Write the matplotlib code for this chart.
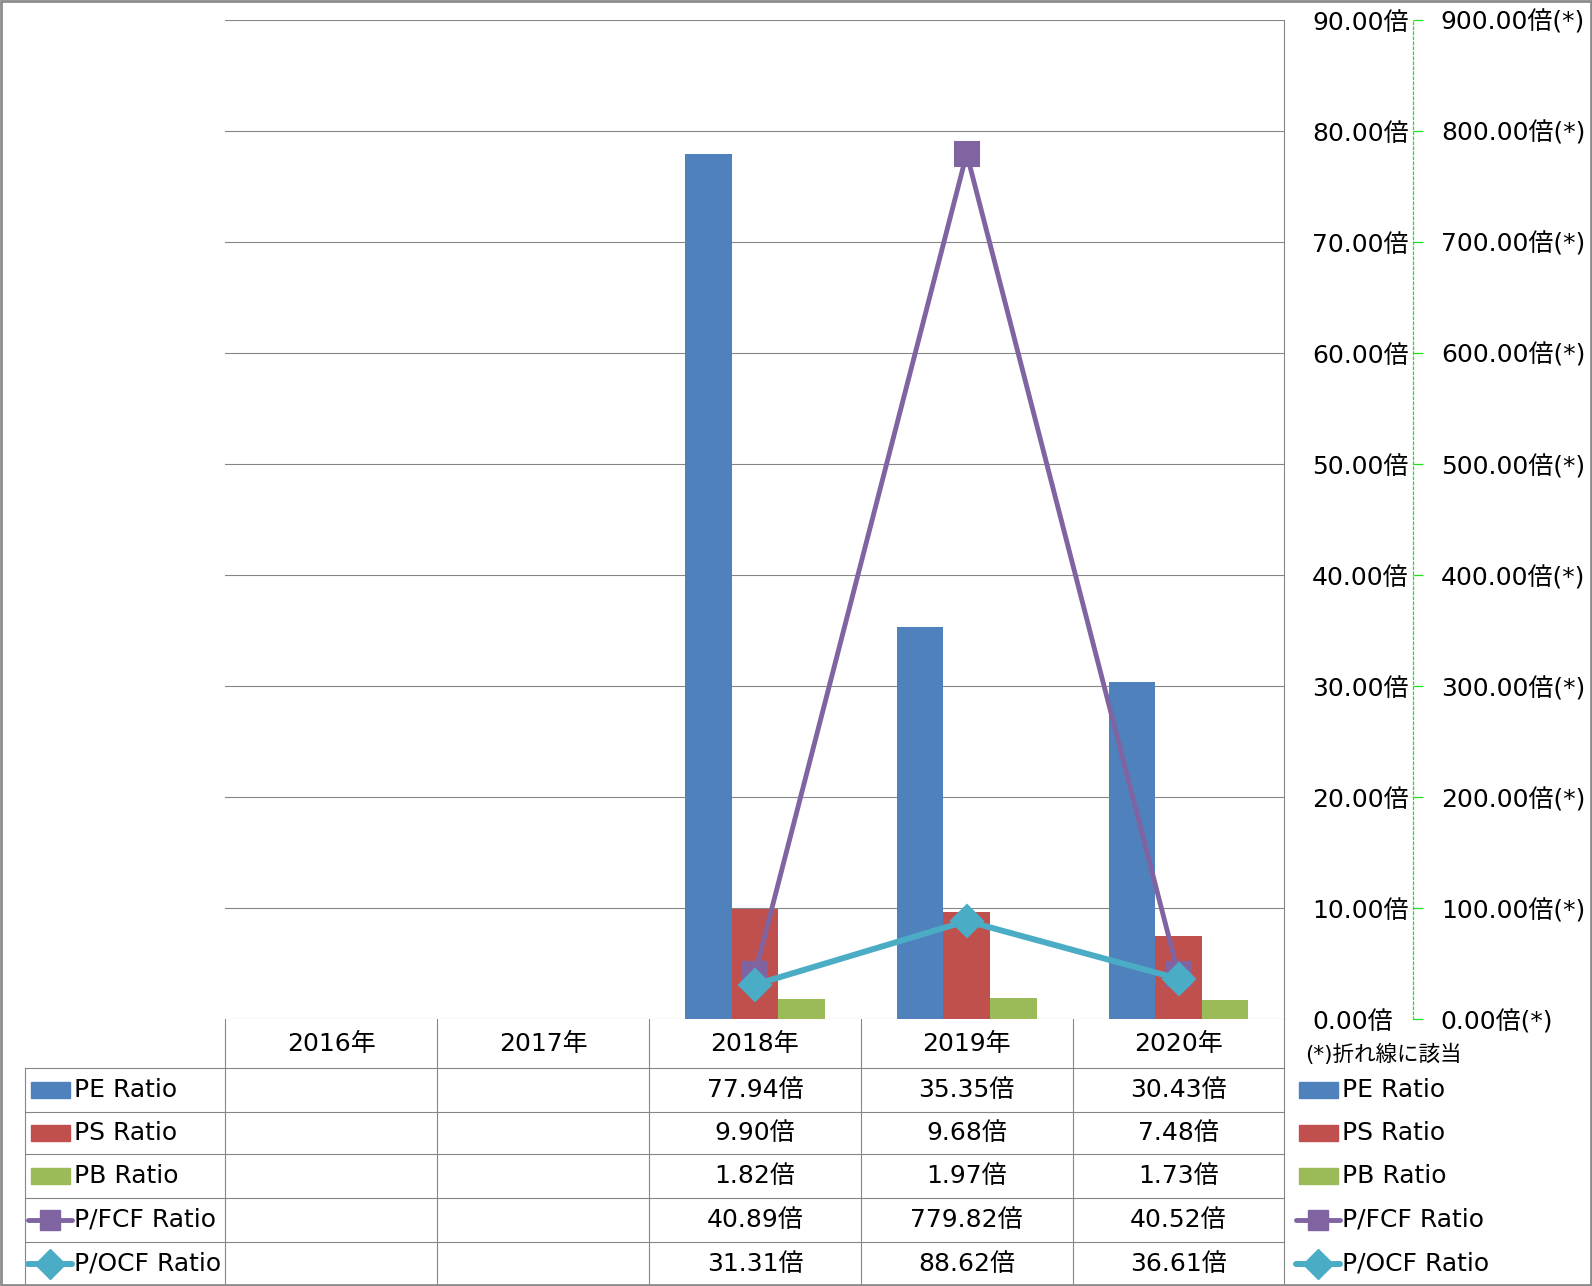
import matplotlib
matplotlib.use("Agg")
import matplotlib.pyplot as plt
from matplotlib.patches import Rectangle
import numpy as np

plt.rcParams['font.family'] = ['DejaVu Sans', 'Noto Sans CJK JP']

# データ
years = ['2016年', '2017年', '2018年', '2019年', '2020年']
pe_ratio = [np.nan, np.nan, 77.94, 35.35, 30.43]
ps_ratio = [np.nan, np.nan, 9.90, 9.68, 7.48]
pb_ratio = [np.nan, np.nan, 1.82, 1.97, 1.73]
pfcf_ratio = [np.nan, np.nan, 40.89, 779.82, 40.52]
pocf_ratio = [np.nan, np.nan, 31.31, 88.62, 36.61]
left_ticks = [0, 10, 20, 30, 40, 50, 60, 70, 80, 90]
right_ticks = [0, 100, 200, 300, 400, 500, 600, 700, 800, 900]

bar_series = [('PE Ratio', pe_ratio, '#4F81BD'),
              ('PS Ratio', ps_ratio, '#C0504D'),
              ('PB Ratio', pb_ratio, '#9BBB59')]
line_series = [('P/FCF Ratio', pfcf_ratio, '#8064A2', 's', 3.5),
               ('P/OCF Ratio', pocf_ratio, '#4BACC6', 'D', 4.3)]

W, H = 1592, 1286
L, R, T, B = 225.4, 1284.4, 20.3, 1019.4
GRID = '#868686'
FS = 18

fig = plt.figure(figsize=(W / 100, H / 100), dpi=100)

# メインのグラフ
ax = fig.add_axes([L / W, 1 - B / H, (R - L) / W, (B - T) / H])
ax2 = ax.twinx()  # 第2軸（折れ線）

x = np.arange(len(years))
w = 0.22
for i, (name, vals, col) in enumerate(bar_series):
    ax.bar(x + (i - 1) * w, vals, w, color=col, zorder=2)
ax.set_xlim(-0.5, 4.5)
ax.set_ylim(0, 90)
ax.set_xticks([])
ax.set_yticks(left_ticks)
ax.set_yticklabels([f'{t:.2f}倍' for t in left_ticks])
ax.yaxis.tick_right()
ax.tick_params(axis='y', length=0, pad=(1312 - R) * 0.72, labelsize=FS)
ax.grid(axis='y', color=GRID, lw=0.8, zorder=0)
for s in ['top', 'left', 'bottom']:
    ax.spines[s].set_visible(False)
ax.spines['right'].set_color(GRID)
ax.spines['right'].set_linewidth(0.8)

ax2.set_ylim(0, 900)
ax2.set_yticks(right_ticks)
ax2.set_yticklabels([f'{t:.2f}倍(*)' for t in right_ticks])
for s in ['top', 'left', 'bottom']:
    ax2.spines[s].set_visible(False)
ax2.spines['right'].set_position(('outward', (1413 - R) * 0.72))
ax2.spines['right'].set_color('#22DD22')
ax2.spines['right'].set_linestyle((0, (2, 2)))
ax2.spines['right'].set_linewidth(0.9)
ax2.tick_params(axis='y', direction='out', length=7, width=0.9, color='#22DD22',
                pad=13, labelsize=FS)
for name, vals, col, mk, lw in line_series:
    ax2.plot(x, vals, color=col, lw=lw, marker=mk, ms=17 if mk == 's' else 16,
             mfc=col, mec=col, mew=1.5)

# データテーブル
tab = fig.add_axes([0, 0, 1, 1], zorder=-1)
tab.set_xlim(0, W)
tab.set_ylim(H, 0)
tab.axis('off')

cols = np.linspace(L, R, 6)
rows = [1068.1, 1111.8, 1154.4, 1198.1, 1241.7, H]
for c in cols:
    tab.plot([c, c], [B, H], color=GRID, lw=0.8)
tab.plot([25.4, 25.4], [rows[0], H], color=GRID, lw=0.8)
for r in rows[:-1]:
    tab.plot([25.4, R], [r, r], color=GRID, lw=0.8)

for j, yr in enumerate(years):
    tab.text((cols[j] + cols[j + 1]) / 2, (B + rows[0]) / 2, yr,
             ha='center', va='center', fontsize=FS)

all_series = [(n, v, c, None, 0) for n, v, c in bar_series] + line_series


def legend_key(xl, yc, col, mk, lw):
    if mk is None:
        tab.add_patch(Rectangle((xl + 3, yc - 8), 39, 16, color=col))
    else:
        tab.plot([xl, xl + 44], [yc, yc], color=col, lw=lw, solid_capstyle='round')
        tab.plot([xl + 22], [yc], marker=mk, ms=15, color=col)


for i, (name, vals, col, mk, lw) in enumerate(all_series):
    yc = (rows[i] + rows[i + 1]) / 2
    legend_key(28, yc, col, mk, lw)
    tab.text(74, yc, name, ha='left', va='center', fontsize=FS)
    for j, v in enumerate(vals):
        if not np.isnan(v):
            tab.text((cols[j] + cols[j + 1]) / 2, yc, f'{v:.2f}倍',
                     ha='center', va='center', fontsize=FS)
    # 右側の凡例
    legend_key(1296, yc, col, mk, lw)
    tab.text(1342, yc, name, ha='left', va='center', fontsize=FS)

tab.text(1305, 1054, '(*)折れ線に該当', ha='left', va='center', fontsize=15.5)

tab.add_patch(Rectangle((1, 1), W - 2, H - 2, fill=False, edgecolor='#8C8C8C', lw=2))

fig.savefig('out.png', dpi=100)
